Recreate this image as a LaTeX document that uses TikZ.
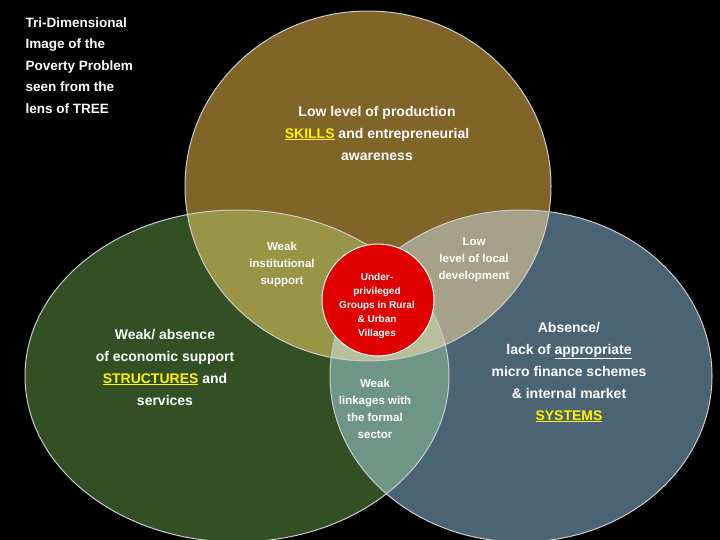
\documentclass[tikz,border=0pt]{standalone}
\usepackage{fontspec}
\setmainfont{Liberation Sans}
\newcommand\myul[1]{\underline{#1}}
\begin{document}
\begin{tikzpicture}[x=1pt,y=-1pt,
  txt/.style={text=white,align=center,font=\bfseries},
  ring/.style={draw=white!80!black,line width=1pt}]
\fill[black] (0,0) rectangle (720,540);
\useasboundingbox (0,0) rectangle (720,540);
\begin{scope}[blend group=screen]
\fill[fill={rgb,255:red,128;green,100;blue,40}] (368,186) ellipse [x radius=183,y radius=175];
\fill[fill={rgb,255:red,50;green,80;blue,35}] (237,376) ellipse [x radius=212,y radius=166];
\fill[fill={rgb,255:red,75;green,100;blue,115}] (521,376) ellipse [x radius=191,y radius=166];
\end{scope}
\draw[ring] (368,186) ellipse [x radius=183,y radius=175];
\draw[ring] (237,376) ellipse [x radius=212,y radius=166];
\draw[ring] (521,376) ellipse [x radius=191,y radius=166];
\node[circle,fill={rgb,255:red,225;green,0;blue,0},draw=white,line width=1pt,minimum size=112pt,inner sep=0pt] (c) at (378,300) {};
\node[txt,anchor=north west,align=left,font=\bfseries\fontsize{13.5}{21.5}\selectfont] (t) at (22,14) {Tri-Dimensional\\Image of the\\Poverty Problem\\seen from the\\lens of TREE};
\node[txt,font=\bfseries\fontsize{14}{22}\selectfont] (a) at (377,133) {Low level of production\\{\color{yellow}\myul{SKILLS}} and entrepreneurial\\awareness};
\node[txt,font=\bfseries\fontsize{14}{22}\selectfont] (b) at (165,367) {Weak/ absence\\of economic support\\{\color{yellow}\myul{STRUCTURES}} and\\services};
\node[txt,font=\bfseries\fontsize{14}{22}\selectfont] (d) at (569,372) {Absence/\\lack of \myul{appropriate}\\micro finance schemes\\\& internal market\\{\color{yellow}\myul{SYSTEMS}}};
\node[txt,font=\bfseries\fontsize{11.5}{17}\selectfont] (e) at (282,265) {Weak\\institutional\\support};
\node[txt,font=\bfseries\fontsize{11.5}{17}\selectfont] (f) at (474,260) {Low\\level of local\\development};
\node[txt,font=\bfseries\fontsize{10}{14}\selectfont] (g) at (377,306) {Under-\\privileged\\Groups in Rural\\\& Urban\\Villages};
\node[txt,font=\bfseries\fontsize{11.5}{17}\selectfont] (h) at (375,409) {Weak\\linkages with\\the formal\\sector};
\end{tikzpicture}
\end{document}
